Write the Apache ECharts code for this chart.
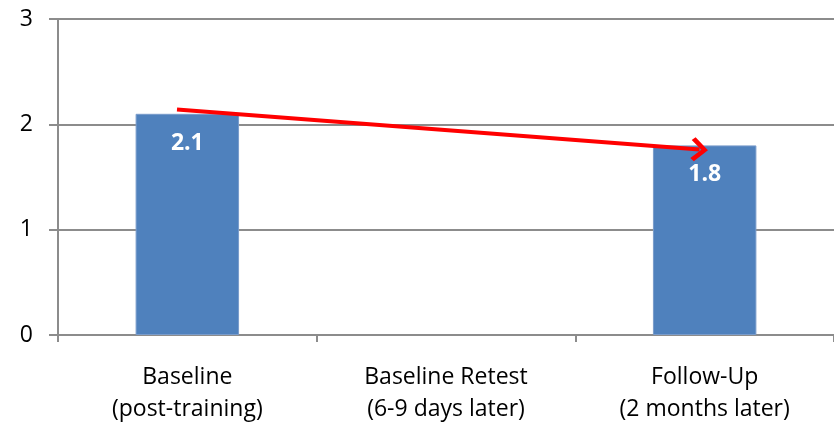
<!DOCTYPE html>
<html>
<head>
<meta charset="utf-8">
<script src="https://cdn.jsdelivr.net/npm/echarts@6/dist/echarts.min.js"></script>
<style>html,body{margin:0;padding:0;background:#fff}#c{width:834px;height:425px}</style>
</head>
<body>
<div id="c"></div>
<script>
const categories = ['Baseline\n(post-training)', 'Baseline Retest\n(6-9 days later)', 'Follow-Up\n(2 months later)'];
const values = [2.1, null, 1.8];
const yTicks = {min: 0, max: 3, interval: 1};
// trend arrow annotation, in data coordinates (x: 0..3 across the category bands)
const arrowStart = [0.46, 2.14];
const arrowEnd = [2.48, 1.76];

const gray = '#8c8c8c';
const font = 'Open Sans';
const chart = echarts.init(document.getElementById('c'), null, {renderer: 'canvas'});
chart.setOption({
  animation: false,
  textStyle: {fontFamily: font},
  grid: {left: 58, right: -1, top: 19, bottom: 87, containLabel: false},
  xAxis: [{
    type: 'category', data: categories,
    axisLine: {show: true, lineStyle: {color: gray, width: 2}},
    axisTick: {show: true, length: 7, lineStyle: {color: gray, width: 2}},
    axisLabel: {color: '#000', fontSize: 23, lineHeight: 32, margin: 26, fontFamily: font, interval: 0}
  }, {
    type: 'value', min: 0, max: 3, show: false
  }],
  yAxis: {
    type: 'value', min: yTicks.min, max: yTicks.max, interval: yTicks.interval,
    axisLine: {show: true, lineStyle: {color: gray, width: 2}},
    axisTick: {show: true, length: 9, lineStyle: {color: gray, width: 2}},
    splitLine: {show: true, lineStyle: {color: gray, width: 2}},
    axisLabel: {color: '#000', fontSize: 23, margin: 25, fontFamily: font}
  },
  series: [{
    type: 'bar', data: values, barWidth: '40%',
    itemStyle: {color: '#4F81BD', borderColor: '#7A9CCB', borderWidth: 1},
    label: {show: true, position: 'insideTop', distance: 18, color: '#fff', fontWeight: 'bold', fontSize: 23, fontFamily: font}
  }, {
    type: 'line', xAxisIndex: 1, data: [], silent: true,
    markLine: {
      silent: true, animation: false,
      symbol: ['none', 'path://M0,0 L10,9 L7.5,11.5 L0,4.5 L-7.5,11.5 L-10,9 Z'],
      symbolSize: [24, 17],
      lineStyle: {color: '#FF0000', width: 4, type: 'solid'},
      label: {show: false},
      data: [[{coord: arrowStart}, {coord: arrowEnd}]]
    }
  }]
});
</script>
</body>
</html>
